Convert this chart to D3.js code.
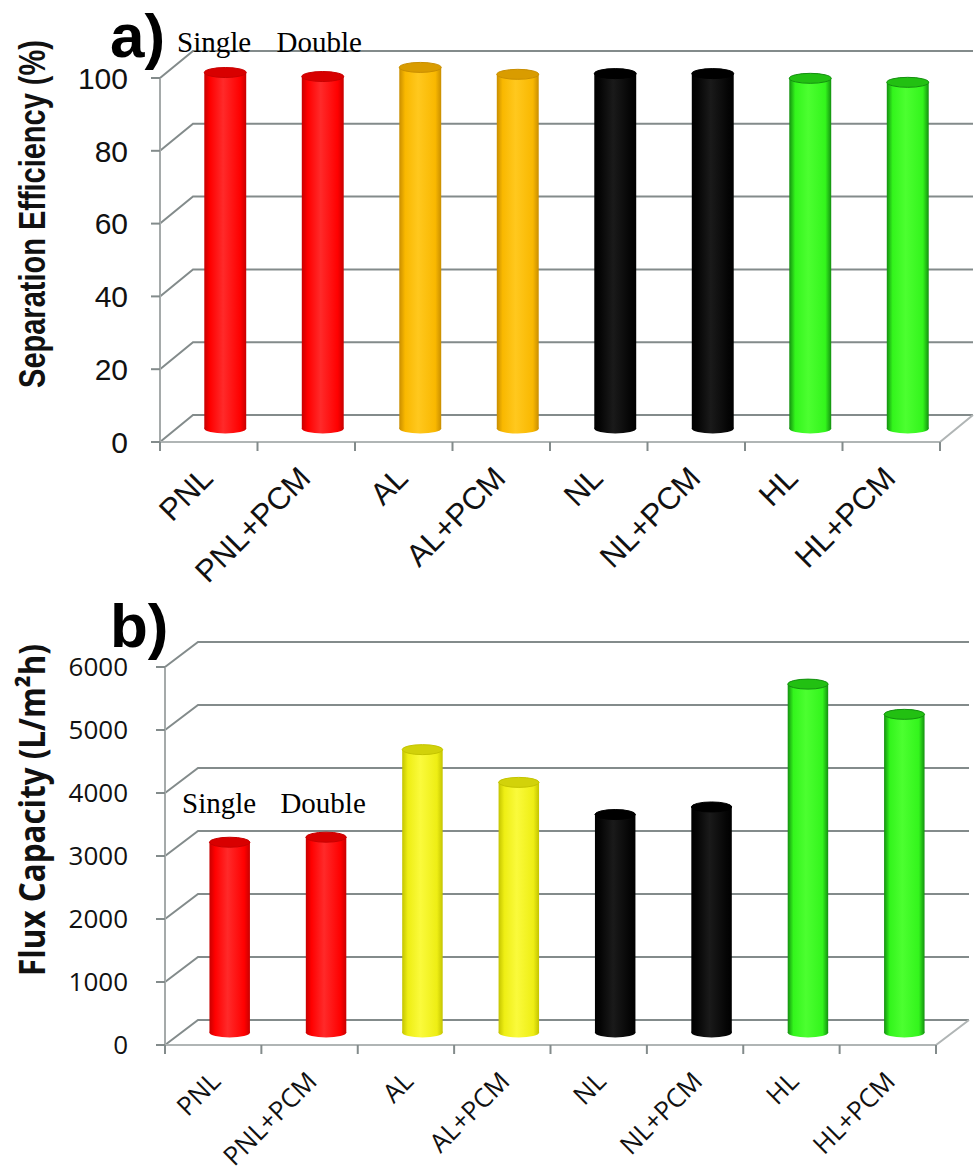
<!DOCTYPE html>
<html>
<head>
<meta charset="utf-8">
<script src="https://cdn.jsdelivr.net/npm/d3@7"></script>
<style>
  body { margin: 0; background: #fff; }
  svg { display: block; }
</style>
</head>
<body>
<div id="chart"></div>
<script>
// data
const categories = ["PNL", "PNL+PCM", "AL", "AL+PCM", "NL", "NL+PCM", "HL", "HL+PCM"];
const efficiency = [97.8, 96.7, 99.2, 97.3, 97.5, 97.5, 96.2, 95.1];
const flux = [3020, 3100, 4490, 3970, 3460, 3580, 5530, 5050];
const effTicks = [0, 20, 40, 60, 80, 100];
const fluxTicks = [0, 1000, 2000, 3000, 4000, 5000, 6000];
const colorsA = ["red", "red", "gold", "gold", "black", "black", "green", "green"];
const colorsB = ["red", "red", "yellow", "yellow", "black", "black", "green", "green"];

// cylinder shading: [edge, body, highlight, top]
const shades = {
    red:    ["#c80000", "#ff0000", "#ff2a2a", "#d80000"],
    gold:   ["#c98e00", "#f9b800", "#ffc81e", "#d99c00"],
    yellow: ["#c4c400", "#eeee14", "#fafa3c", "#d2d20a"],
    black:  ["#000000", "#050505", "#1a1a1a", "#000000"],
    green:  ["#149010", "#33f51c", "#4cff30", "#22c012"]
};

const W = 980, H = 1173;
const svg = d3.select("#chart").append("svg")
              .attr("width", W)
              .attr("height", H);

const defs = svg.append("defs");
Object.keys(shades).forEach(k => {
    const s = shades[k];
    const g = defs.append("linearGradient")
                  .attr("id", "grad-" + k)
                  .attr("x1", "0%").attr("x2", "100%")
                  .attr("y1", "0%").attr("y2", "0%");
    g.append("stop").attr("offset", "0%").attr("stop-color", s[0]);
    g.append("stop").attr("offset", "14%").attr("stop-color", s[1]);
    g.append("stop").attr("offset", "45%").attr("stop-color", s[2]);
    g.append("stop").attr("offset", "86%").attr("stop-color", s[1]);
    g.append("stop").attr("offset", "100%").attr("stop-color", s[0]);
});

const gridColor = "#838b8b";

function drawChart(cfg) {
    const g = svg.append("g");
    const x = d3.scaleBand()
                .domain(categories)
                .range([cfg.x0, cfg.x1]);
    const y = d3.scaleLinear()
                .domain(cfg.domain)
                .range([cfg.yBottom, cfg.yTop]);
    const dx = cfg.dx, dy = cfg.dy;
    const x0 = cfg.x0, x1 = cfg.x1;

    // back wall gridlines + side wall obliques
    cfg.ticks.forEach(t => {
        g.append("path")
         .attr("d", `M${x0},${y(t)} L${x0 + dx},${y(t) + dy} L${x1 + dx},${y(t) + dy}`)
         .attr("fill", "none")
         .attr("stroke", gridColor)
         .attr("stroke-width", 2);
    });

    // floor front + right edge
    g.append("path")
     .attr("d", `M${x0},${y(0)} L${x1},${y(0)} L${x1 + dx},${y(0) + dy}`)
     .attr("fill", "none")
     .attr("stroke", "#b0b5b5")
     .attr("stroke-width", 2);

    // category ticks
    const bounds = categories.map(c => x(c)).concat([x1]);
    g.selectAll(".xtick")
     .data(bounds)
     .enter()
     .append("line")
     .attr("x1", d => d).attr("x2", d => d)
     .attr("y1", y(0)).attr("y2", y(0) + 9)
     .attr("stroke", gridColor)
     .attr("stroke-width", 2);

    // front value axis
    g.append("line")
     .attr("x1", x0).attr("x2", x0)
     .attr("y1", y(cfg.domain[1])).attr("y2", y(0))
     .attr("stroke", "#a5aaaa")
     .attr("stroke-width", 2);

    g.selectAll(".ytick")
     .data(cfg.ticks)
     .enter()
     .append("line")
     .attr("x1", x0 - 9).attr("x2", x0)
     .attr("y1", d => y(d)).attr("y2", d => y(d))
     .attr("stroke", gridColor)
     .attr("stroke-width", 2);

    g.selectAll(".ylab")
     .data(cfg.ticks)
     .enter()
     .append("text")
     .attr("x", cfg.labelX)
     .attr("y", d => y(d))
     .attr("dy", "0.36em")
     .attr("text-anchor", "end")
     .style("font-family", cfg.tickFont)
     .style("font-size", cfg.tickSize + "px")
     .attr("fill", "#111")
     .text(d => d);

    // cylinders
    const bw = x.bandwidth() * cfg.barRatio;
    const ry = 5;
    const bars = g.selectAll(".bar")
                  .data(cfg.values.map((v, i) => ({ cat: categories[i], v: v, c: cfg.colors[i] })))
                  .enter()
                  .append("g");
    const cxOf = d => x(d.cat) + x.bandwidth() / 2 + dx / 2;
    const baseY = y(0) + dy / 2;

    bars.append("rect")
        .attr("x", d => cxOf(d) - bw / 2)
        .attr("y", d => y(d.v) + dy / 2)
        .attr("width", bw)
        .attr("height", d => baseY - (y(d.v) + dy / 2))
        .attr("fill", d => `url(#grad-${d.c})`);
    bars.append("ellipse")
        .attr("cx", cxOf)
        .attr("cy", baseY)
        .attr("rx", bw / 2)
        .attr("ry", ry)
        .attr("fill", d => `url(#grad-${d.c})`);
    bars.append("ellipse")
        .attr("cx", cxOf)
        .attr("cy", d => y(d.v) + dy / 2)
        .attr("rx", bw / 2)
        .attr("ry", ry)
        .attr("fill", d => shades[d.c][3])
        .attr("stroke", d => shades[d.c][0])
        .attr("stroke-width", 1);

    // category labels
    g.selectAll(".xlab")
     .data(categories)
     .enter()
     .append("text")
     .attr("transform", d => `translate(${x(d) + x.bandwidth() / 2 + cfg.catDx},${y(0) + cfg.catDy}) rotate(-45)`)
     .attr("text-anchor", "end")
     .style("font-family", cfg.catFont)
     .style("font-size", cfg.catSize + "px")
     .attr("fill", "#111")
     .text(d => d);

    // axis title, squeezed horizontally to the reference length
    const title = g.append("text")
     .attr("text-anchor", "middle")
     .style("font-family", cfg.titleFont)
     .style("font-weight", "bold")
     .style("font-size", cfg.titleSize + "px")
     .attr("fill", "#111")
     .text(cfg.title);
    const natural = title.node().getComputedTextLength();
    const sx = natural > 0 ? cfg.titleLen / natural : 1;
    title.attr("transform", `translate(${cfg.titleX},${cfg.titleY}) rotate(-90) scale(${sx},1)`);

    // panel letter
    g.append("text")
     .attr("x", 110)
     .attr("y", cfg.letterY)
     .style("font-family", "Liberation Sans, Arial, sans-serif")
     .style("font-weight", "bold")
     .style("font-size", cfg.letterSize + "px")
     .attr("fill", "#000")
     .text(cfg.letter);

    // Single / Double annotation
    g.append("text")
     .attr("x", x(categories[0]) + 17)
     .attr("y", cfg.noteY)
     .style("font-family", "Liberation Serif, 'Times New Roman', serif")
     .style("font-size", "29px")
     .attr("fill", "#000")
     .text("Single");
    g.append("text")
     .attr("x", x(categories[1]) + 19)
     .attr("y", cfg.noteY)
     .style("font-family", "Liberation Serif, 'Times New Roman', serif")
     .style("font-size", "29px")
     .attr("fill", "#000")
     .text("Double");
}

drawChart({
    values: efficiency, colors: colorsA, ticks: effTicks, domain: [0, 100],
    x0: 160, x1: 940, yBottom: 442, yTop: 78, dx: 33, dy: -27, barRatio: 0.43,
    labelX: 128, tickFont: "Liberation Sans, Arial, sans-serif", tickSize: 30,
    catFont: "Liberation Sans, Arial, sans-serif", catSize: 31, catDx: 6, catDy: 38,
    title: "Separation Efficiency (%)", titleFont: "Liberation Sans, Arial, sans-serif",
    titleSize: 37, titleX: 45, titleY: 214, titleLen: 348,
    letter: "a)", letterY: 57, letterSize: 62, noteY: 52
});

drawChart({
    values: flux, colors: colorsB, ticks: fluxTicks, domain: [0, 6000],
    x0: 165, x1: 936, yBottom: 1045, yTop: 667, dx: 33, dy: -25, barRatio: 0.42,
    labelX: 128, tickFont: "'Open Sans', sans-serif", tickSize: 26,
    catFont: "'Open Sans', sans-serif", catSize: 26, catDx: 9, catDy: 38,
    title: "Flux Capacity (L/m²h)", titleFont: "'Open Sans', sans-serif",
    titleSize: 35, titleX: 45, titleY: 810, titleLen: 332,
    letter: "b)", letterY: 647, letterSize: 62, noteY: 813
});
</script>
</body>
</html>
